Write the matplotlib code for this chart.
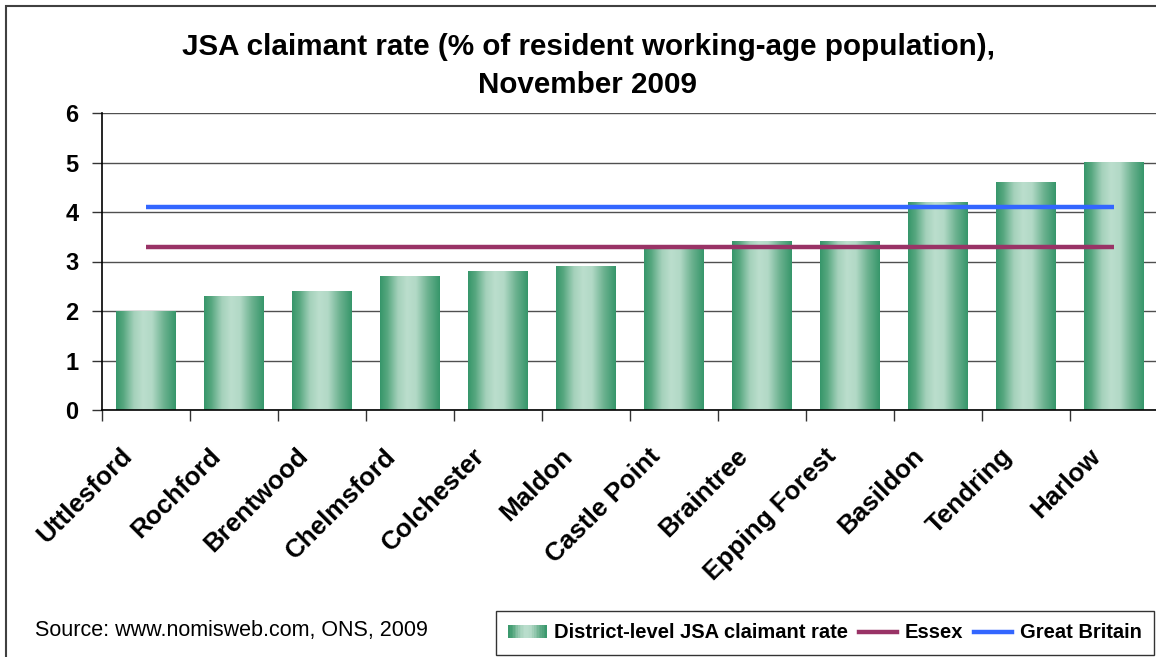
import numpy as np
import matplotlib
matplotlib.use('Agg')
import matplotlib.pyplot as plt
import matplotlib.colors as mcolors
from matplotlib.patches import Rectangle
from matplotlib.lines import Line2D
from matplotlib.legend_handler import HandlerBase

plt.rcParams['font.family'] = ['Liberation Sans', 'DejaVu Sans']

districts = ["Uttlesford", "Rochford", "Brentwood", "Chelmsford", "Colchester",
             "Maldon", "Castle Point", "Braintree", "Epping Forest", "Basildon",
             "Tendring", "Harlow"]
district_rate = [2.0, 2.3, 2.4, 2.7, 2.8, 2.9, 3.3, 3.4, 3.4, 4.2, 4.6, 5.0]
essex_rate = 3.3
gb_rate = 4.1
y_ticks = [0, 1, 2, 3, 4, 5, 6]

# green cylinder-style shading across each bar
bar_cmap = mcolors.LinearSegmentedColormap.from_list("bar_shade", [
    (0.00, "#36966a"), (0.12, "#56a77f"), (0.30, "#a4d1bb"),
    (0.45, "#bbdecd"), (0.60, "#b2d9c6"), (0.80, "#6cb290"),
    (1.00, "#36966a"),
], N=256)


class GradientHandler(HandlerBase):
    def create_artists(self, legend, orig_handle, xdescent, ydescent,
                       width, height, fontsize, trans):
        n = 24
        out = []
        for i in range(n):
            r = Rectangle((-xdescent + i * width / n, -ydescent), width / n + 0.3, height,
                          facecolor=bar_cmap((i + 0.5) / n), lw=0, transform=trans)
            out.append(r)
        return out


W, H = 1156, 657
fig = plt.figure(figsize=(W / 100, H / 100), dpi=100)
ax = fig.add_axes([102 / W, 1 - 410 / H, 1056 / W, 297 / H])

x = np.arange(len(districts))
bars = ax.bar(x, district_rate, width=0.68, color='none', zorder=2)
grad = np.linspace(0, 1, 256).reshape(1, -1)
for b in bars:
    x0, y0 = b.get_x(), b.get_y()
    ax.imshow(grad, cmap=bar_cmap, aspect='auto', zorder=2,
              extent=[x0, x0 + b.get_width(), y0, y0 + b.get_height()])

ax.plot([x[0], x[-1]], [essex_rate, essex_rate], color='#993366', lw=3.2,
        solid_capstyle='butt', zorder=3)
ax.plot([x[0], x[-1]], [gb_rate, gb_rate], color='#3366ff', lw=3.2,
        solid_capstyle='butt', zorder=3)

ax.set_xlim(-0.5, len(districts) - 0.5)
ax.set_ylim(0, 6)
ax.set_yticks(y_ticks)
ax.set_yticklabels([str(t) for t in y_ticks], fontsize=17, fontweight='bold')
ax.yaxis.grid(True, color='#505050', lw=1, zorder=1)
ax.set_axisbelow(True)

# category names, slanted, hanging below each bar
ax.set_xticks(x)
ax.set_xticklabels([])
for i, name in enumerate(districts):
    ax.annotate(name, xy=(i, 0), xycoords=('data', 'axes fraction'),
                xytext=(-26, -34), textcoords='offset pixels',
                rotation=45, ha='right', va='top', rotation_mode='anchor',
                fontsize=18.7, fontweight='bold')
ax.set_xticks(np.arange(len(districts) + 1) - 0.5, minor=True)
ax.tick_params(axis='x', which='major', length=0)
ax.tick_params(axis='x', which='minor', length=8, width=1, color='#333333', direction='out')
ax.tick_params(axis='y', length=7, width=1, color='#333333', pad=10)

for s in ['top', 'right']:
    ax.spines[s].set_visible(False)
ax.spines['left'].set_color('black')
ax.spines['bottom'].set_color('black')
ax.spines['left'].set_linewidth(1.2)
ax.spines['bottom'].set_linewidth(1.2)

fig.text(588 / W, 1 - 66 / H,
         "JSA claimant rate (% of resident working-age population),\nNovember 2009",
         ha='center', va='center', fontsize=21.3, fontweight='bold', linespacing=1.45)

fig.text(35 / W, 1 - 636 / H, "Source: www.nomisweb.com, ONS, 2009",
         fontsize=15.5, ha='left', va='baseline')

# outer chart frame
fig.patches.append(Rectangle((6 / W, -0.2), 1.2, 1.2 - 6 / H, fill=False,
                             edgecolor='#404040', lw=1.5, transform=fig.transFigure))

handles = [Rectangle((0, 0), 1, 1), Line2D([], [], color='#993366', lw=3.2),
           Line2D([], [], color='#3366ff', lw=3.2)]
labels = ["District-level JSA claimant rate", "Essex", "Great Britain"]
leg = fig.legend(handles, labels, loc='upper left',
                 bbox_to_anchor=(496 / W, 1 - 611 / H), ncol=3,
                 handler_map={Rectangle: GradientHandler()},
                 prop={'size': 14.5, 'weight': 'bold'},
                 frameon=True, fancybox=False, edgecolor='black',
                 handlelength=1.9, handleheight=0.65, handletextpad=0.36,
                 columnspacing=0.55, borderpad=0.62, borderaxespad=0)
leg.get_frame().set_linewidth(1.0)

fig.savefig("out.png", dpi=100)
